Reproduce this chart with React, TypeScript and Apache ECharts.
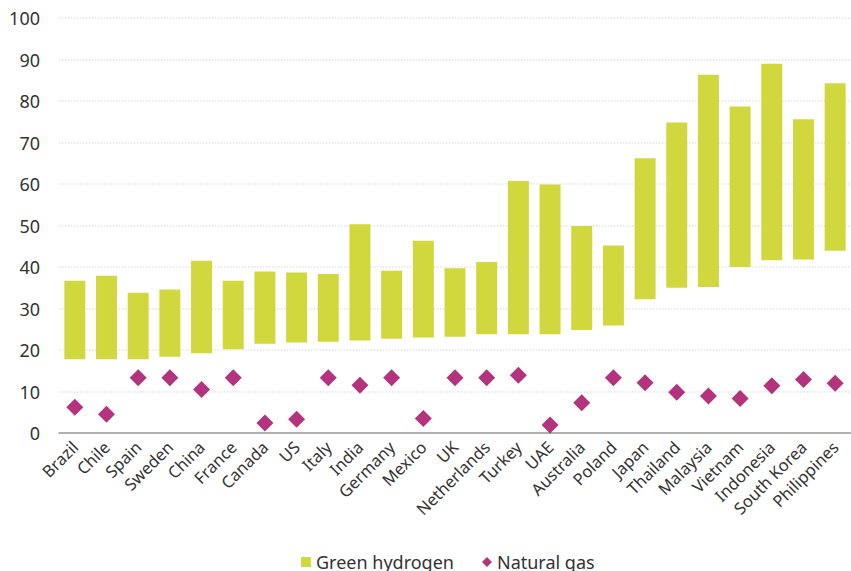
import React, { useEffect, useRef } from "react";
import * as echarts from "echarts";

const categories = [
  "Brazil", "Chile", "Spain", "Sweden", "China", "France", "Canada", "US", "Italy", "India",
  "Germany", "Mexico", "UK", "Netherlands", "Turkey", "UAE", "Australia", "Poland", "Japan",
  "Thailand", "Malaysia", "Vietnam", "Indonesia", "South Korea", "Philippines",
];
const hydrogenLow = [
  17.8, 17.8, 17.8, 18.4, 19.2, 20.2, 21.5, 21.8, 22.0, 22.3,
  22.7, 23.0, 23.2, 23.8, 23.8, 23.8, 24.8, 25.9, 32.2,
  35.0, 35.2, 40.0, 41.6, 41.8, 43.9,
];
const hydrogenHigh = [
  36.7, 37.9, 33.8, 34.6, 41.5, 36.7, 38.9, 38.7, 38.3, 50.3,
  39.1, 46.3, 39.7, 41.2, 60.7, 59.9, 49.9, 45.2, 66.2,
  74.8, 86.3, 78.7, 89.0, 75.6, 84.3,
];
const naturalGas = [
  6.2, 4.5, 13.3, 13.3, 10.5, 13.3, 2.4, 3.3, 13.3, 11.5,
  13.3, 3.5, 13.3, 13.3, 13.9, 1.9, 7.3, 13.3, 12.1,
  9.8, 8.9, 8.3, 11.4, 12.9, 12.0,
];
const yTicks = { min: 0, max: 100, interval: 10 };

const GREEN = "#d1d83d";
const MAGENTA = "#a0005e";
const FONT = "Noto Sans";

export default function App() {
  const ref = useRef<HTMLDivElement>(null);
  useEffect(() => {
    if (!ref.current) return;
    const chart = echarts.init(ref.current, undefined, { renderer: "svg" });
    chart.setOption({
      animation: false,
      textStyle: { fontFamily: FONT },
      grid: { left: 59, right: 0, top: 18, bottom: 138, containLabel: false },
      legend: {
        top: 548,
        left: 296,
        itemWidth: 10,
        itemHeight: 10,
        itemGap: 28,
        textStyle: { fontSize: 18, color: "#333", fontFamily: FONT },
        data: [
          { name: "Green hydrogen", icon: "rect" },
          { name: "Natural gas", icon: "diamond" },
        ],
      },
      xAxis: {
        type: "category",
        data: categories,
        axisLine: { lineStyle: { color: "#9a9a9a", width: 1.5 } },
        axisTick: { length: 6, lineStyle: { color: "#9a9a9a" } },
        axisLabel: {
          rotate: 45,
          fontSize: 16.5,
          color: "#333",
          margin: 11,
          interval: 0,
          fontFamily: FONT,
        },
      },
      yAxis: {
        type: "value",
        min: yTicks.min,
        max: yTicks.max,
        interval: yTicks.interval,
        axisLine: { show: false },
        axisTick: { show: false },
        axisLabel: { fontSize: 18, color: "#333", margin: 19, fontFamily: FONT },
        splitLine: { lineStyle: { color: "#e3e3e3", type: "dotted", width: 1.5 } },
      },
      series: [
        {
          name: "base",
          type: "bar",
          stack: "h",
          barWidth: 21,
          itemStyle: { color: "transparent" },
          data: hydrogenLow,
          silent: true,
        },
        {
          name: "Green hydrogen",
          type: "bar",
          stack: "h",
          barWidth: 21,
          itemStyle: { color: GREEN },
          data: hydrogenHigh.map((h, i) => +(h - hydrogenLow[i]).toFixed(2)),
        },
        {
          name: "Natural gas",
          type: "scatter",
          symbol: "diamond",
          symbolSize: 17,
          itemStyle: { color: MAGENTA },
          data: naturalGas,
          z: 5,
        },
      ],
    });
    return () => chart.dispose();
  }, []);
  return <div ref={ref} style={{ width: 851, height: 571, position: "absolute", left: 0, top: 0 }} />;
}
